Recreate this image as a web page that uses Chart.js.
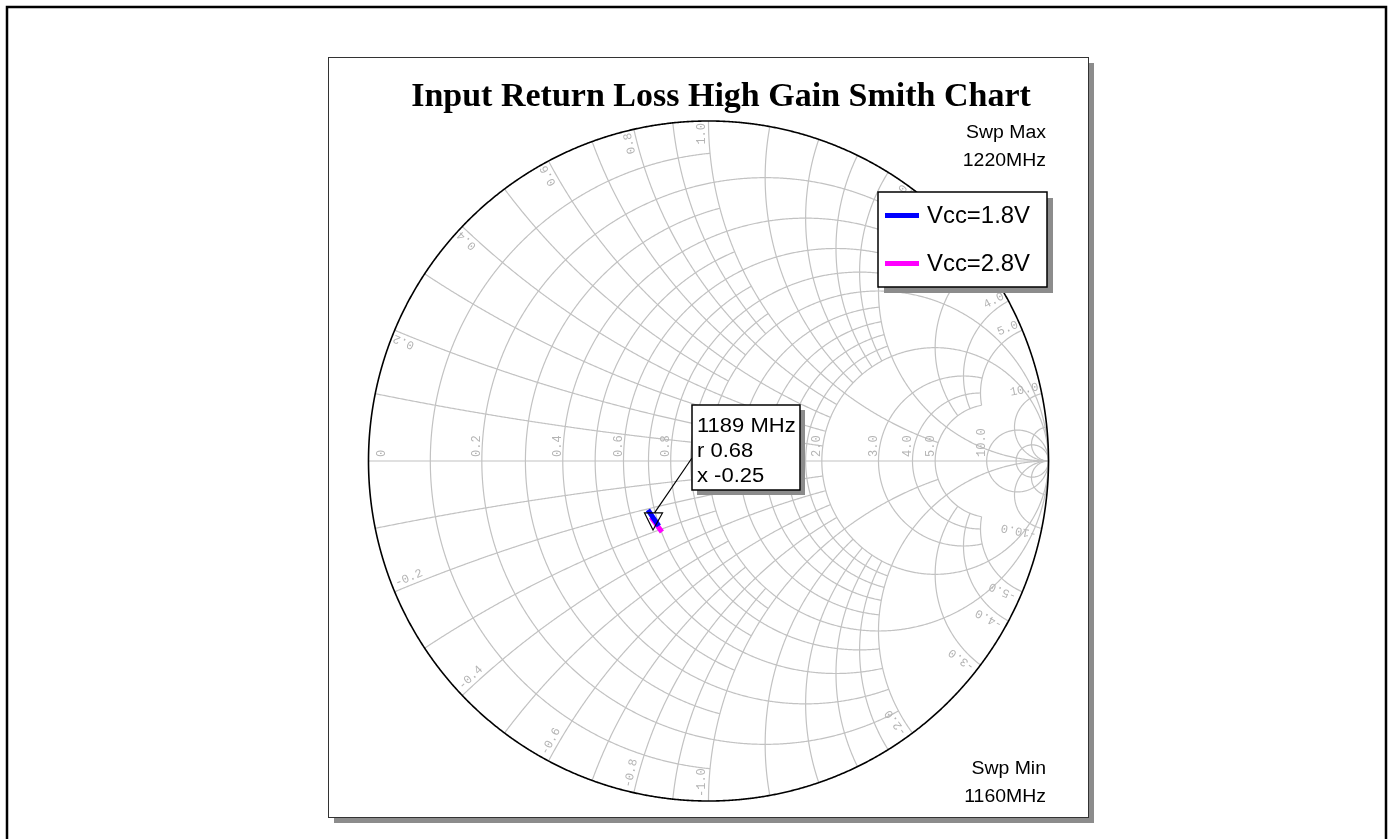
<!DOCTYPE html>
<html>
<head>
<meta charset="utf-8">
<script src="https://cdn.jsdelivr.net/npm/chart.js@4.4.1/dist/chart.umd.min.js"></script>
<style>
  html, body { margin: 0; padding: 0; background: #fff; overflow: hidden; }
  canvas { display: block; }
</style>
</head>
<body>
<canvas id="smith" width="1393" height="839"></canvas>
<script>
const seriesNames = ['Vcc=1.8V', 'Vcc=2.8V'];
const seriesColors = ['#0000ff', '#ff00ff'];
const gammaRe18 = [-0.178, -0.162, -0.146];
const gammaIm18 = [-0.144, -0.168, -0.191];
const gammaRe28 = [-0.169, -0.153, -0.137];
const gammaIm28 = [-0.165, -0.187, -0.209];

const sweepMin = '1160MHz';
const sweepMax = '1220MHz';

// marker readout
const markerFreq = '1189 MHz';
const markerR = 0.68;
const markerX = -0.25;

// smith grid: normalised resistance circles / reactance arcs and where they stop
const resistanceCircles = [0.1, 0.2, 0.3, 0.4, 0.5, 0.6, 0.7, 0.8, 0.9, 1.0, 1.2, 1.4, 1.6, 1.8, 2.0, 3.0, 4.0, 5.0, 10, 20];
const resistanceStopX   = [1, 2, 1, 2, 1, 2, 1, 2, 1, Infinity, 2, 2, 2, 2, Infinity, 5, 5, 5, Infinity, Infinity];
const reactanceArcs     = [0.1, 0.2, 0.3, 0.4, 0.5, 0.6, 0.7, 0.8, 0.9, 1.0, 1.2, 1.4, 1.6, 1.8, 2.0, 3.0, 4.0, 5.0, 10, 20];
const reactanceStopR    = [1, 2, 1, 2, 1, 2, 1, 2, 1, 5, 2, 2, 2, 2, Infinity, 5, 5, 5, Infinity, Infinity];
const resistanceLabels  = [0, 0.2, 0.4, 0.6, 0.8, 1.0, 2.0, 3.0, 4.0, 5.0, 10.0];
const reactanceLabels   = [0.2, 0.4, 0.6, 0.8, 1.0, 2.0, 3.0, 4.0, 5.0, 10.0];

const toGamma = (r, x) => {
  const d = (r + 1) * (r + 1) + x * x;
  return { re: (r * r - 1 + x * x) / d, im: 2 * x / d };
};

const normAngle = (a) => {
  while (a > Math.PI) a -= 2 * Math.PI;
  while (a <= -Math.PI) a += 2 * Math.PI;
  return a;
};

const arcPath = (ctx, xs, ys, cx, cy, rad, a0, a1) => {
  const n = Math.max(30, Math.ceil(Math.abs(a1 - a0) * rad * 300));
  ctx.beginPath();
  for (let i = 0; i <= n; i++) {
    const a = a0 + (a1 - a0) * i / n;
    const px = xs.getPixelForValue(cx + rad * Math.cos(a));
    const py = ys.getPixelForValue(cy + rad * Math.sin(a));
    if (i === 0) ctx.moveTo(px, py); else ctx.lineTo(px, py);
  }
  ctx.stroke();
};

const fmt = (v) => (v === 0 ? '0' : v.toFixed(1));

const smithBackground = {
  id: 'smithBackground',
  beforeDatasetsDraw(chart) {
    const ctx = chart.ctx;
    const xs = chart.scales.x, ys = chart.scales.y;
    ctx.save();

    // outer frame
    ctx.strokeStyle = '#000';
    ctx.lineWidth = 2.5;
    ctx.strokeRect(7, 7, 1379, 850);

    // plot box with shadow
    ctx.fillStyle = '#8c8c8c';
    ctx.fillRect(334, 63, 760, 760);
    ctx.fillStyle = '#fff';
    ctx.fillRect(328, 57, 760, 760);
    ctx.strokeStyle = '#333';
    ctx.lineWidth = 1;
    ctx.strokeRect(328.5, 57.5, 760, 760);

    // grid
    ctx.strokeStyle = '#c2c2c2';
    ctx.lineWidth = 1.2;
    resistanceCircles.forEach((r, i) => {
      const c = r / (1 + r), rad = 1 / (1 + r);
      const lim = resistanceStopX[i];
      let a = 0;
      if (isFinite(lim)) {
        const g = toGamma(r, lim);
        a = Math.atan2(g.im, g.re - c);
      }
      arcPath(ctx, xs, ys, c, 0, rad, a, 2 * Math.PI - a);
    });
    reactanceArcs.forEach((x, i) => {
      const lim = reactanceStopR[i];
      [x, -x].forEach((xv) => {
        const cy = 1 / xv, rad = 1 / Math.abs(xv);
        const g0 = toGamma(0, xv);
        const g1 = isFinite(lim) ? toGamma(lim, xv) : { re: 1, im: 0 };
        const b0 = Math.atan2(g0.im - cy, g0.re - 1);
        const b1 = Math.atan2(g1.im - cy, g1.re - 1);
        arcPath(ctx, xs, ys, 1, cy, rad, b0, b0 + normAngle(b1 - b0));
      });
    });
    ctx.beginPath();
    ctx.moveTo(xs.getPixelForValue(-1), ys.getPixelForValue(0));
    ctx.lineTo(xs.getPixelForValue(1), ys.getPixelForValue(0));
    ctx.stroke();

    // unit circle
    ctx.strokeStyle = '#000';
    ctx.lineWidth = 1.6;
    arcPath(ctx, xs, ys, 0, 0, 1, 0, 2 * Math.PI);

    // grid labels
    const cx = xs.getPixelForValue(0), cy = ys.getPixelForValue(0);
    const R = xs.getPixelForValue(1) - cx;
    ctx.fillStyle = '#b4b4b4';
    ctx.font = '12px "Liberation Mono", monospace';
    ctx.textBaseline = 'alphabetic';
    resistanceLabels.forEach((r) => {
      const g = toGamma(r, 0);
      let px = xs.getPixelForValue(g.re) - 1.5;
      if (r === 0) px += 18;
      ctx.save();
      ctx.translate(px, cy);
      ctx.rotate(-Math.PI / 2);
      ctx.textAlign = 'left';
      ctx.fillText(fmt(r), 4, 0);
      ctx.restore();
    });
    reactanceLabels.forEach((x) => {
      const g = toGamma(0, x);
      const phi = Math.atan2(g.im, g.re);
      ctx.save();
      ctx.translate(cx, cy);
      ctx.rotate(-phi);
      ctx.textAlign = 'right';
      ctx.fillText(fmt(x), R - 2, -4);
      ctx.restore();
      ctx.save();
      ctx.translate(cx, cy);
      ctx.rotate(Math.PI + phi);
      ctx.textAlign = 'left';
      ctx.fillText('-' + fmt(x), -R + 4, -4);
      ctx.restore();
    });
    ctx.restore();
  },
  afterDatasetsDraw(chart) {
    const ctx = chart.ctx;
    const xs = chart.scales.x, ys = chart.scales.y;
    ctx.save();

    // marker triangle and leader
    const mg = toGamma(markerR, markerX);
    const mx = xs.getPixelForValue(mg.re), my = ys.getPixelForValue(mg.im);
    ctx.strokeStyle = '#000';
    ctx.lineWidth = 1.2;
    ctx.beginPath();
    ctx.moveTo(mx - 8, my - 7);
    ctx.lineTo(mx + 10, my - 7);
    ctx.lineTo(mx + 0.5, my + 10);
    ctx.closePath();
    ctx.stroke();
    ctx.beginPath();
    ctx.moveTo(mx + 2, my - 7);
    ctx.lineTo(692, 458);
    ctx.stroke();

    // marker readout box
    ctx.fillStyle = '#8c8c8c';
    ctx.fillRect(697, 410, 108, 85);
    ctx.fillStyle = '#fff';
    ctx.fillRect(692, 405, 108, 85);
    ctx.lineWidth = 1.5;
    ctx.strokeRect(692, 405, 108, 85);
    ctx.fillStyle = '#000';
    ctx.font = '20px "Liberation Sans", Arial, sans-serif';
    ctx.textAlign = 'left';
    const drawWide = (t, x, y, sx) => {
      ctx.save(); ctx.translate(x, y); ctx.scale(sx, 1); ctx.fillText(t, 0, 0); ctx.restore();
    };
    drawWide(markerFreq, 697, 432, 1.1);
    drawWide('r ' + markerR.toFixed(2), 697, 457, 1.1);
    drawWide('x ' + markerX.toFixed(2), 697, 482, 1.1);

    // legend
    ctx.fillStyle = '#8c8c8c';
    ctx.fillRect(884, 198, 169, 95);
    ctx.fillStyle = '#fff';
    ctx.fillRect(878, 192, 169, 95);
    ctx.strokeStyle = '#000';
    ctx.lineWidth = 1.5;
    ctx.strokeRect(878, 192, 169, 95);
    ctx.font = '23px "Liberation Sans", Arial, sans-serif';
    seriesNames.forEach((name, i) => {
      const y = 215.5 + i * 48;
      ctx.strokeStyle = seriesColors[i];
      ctx.lineWidth = 5;
      ctx.beginPath();
      ctx.moveTo(885, y);
      ctx.lineTo(919, y);
      ctx.stroke();
      ctx.fillStyle = '#000';
      drawWide(name, 927, y + 7, 1.04);
    });

    // sweep limits
    ctx.font = '18px "Liberation Sans", Arial, sans-serif';
    ctx.textAlign = 'right';
    drawWide('Swp Max', 1046, 137.5, 1.08);
    drawWide(sweepMax, 1046, 166, 1.08);
    drawWide('Swp Min', 1046, 774, 1.08);
    drawWide(sweepMin, 1046, 802, 1.08);

    // title
    ctx.textAlign = 'center';
    ctx.font = 'bold 34px "Liberation Serif", "Times New Roman", serif';
    ctx.fillText('Input Return Loss High Gain Smith Chart', 721, 106);
    ctx.restore();
  }
};

const toPoints = (re, im) => re.map((v, i) => ({ x: v, y: im[i] }));

new Chart(document.getElementById('smith'), {
  type: 'scatter',
  data: {
    datasets: [
      {
        label: seriesNames[0],
        data: toPoints(gammaRe18, gammaIm18),
        showLine: true,
        borderColor: seriesColors[0],
        borderWidth: 5,
        pointRadius: 0,
        fill: false
      },
      {
        label: seriesNames[1],
        data: toPoints(gammaRe28, gammaIm28),
        showLine: true,
        borderColor: seriesColors[1],
        borderWidth: 5,
        pointRadius: 0,
        fill: false
      }
    ]
  },
  options: {
    responsive: false,
    animation: false,
    events: [],
    layout: { padding: { left: 368.5, right: 344.5, top: 121, bottom: 38 } },
    scales: {
      x: { type: 'linear', min: -1, max: 1, display: false },
      y: { type: 'linear', min: -1, max: 1, display: false }
    },
    plugins: {
      legend: { display: false },
      tooltip: { enabled: false }
    }
  },
  plugins: [smithBackground]
});
</script>
</body>
</html>
